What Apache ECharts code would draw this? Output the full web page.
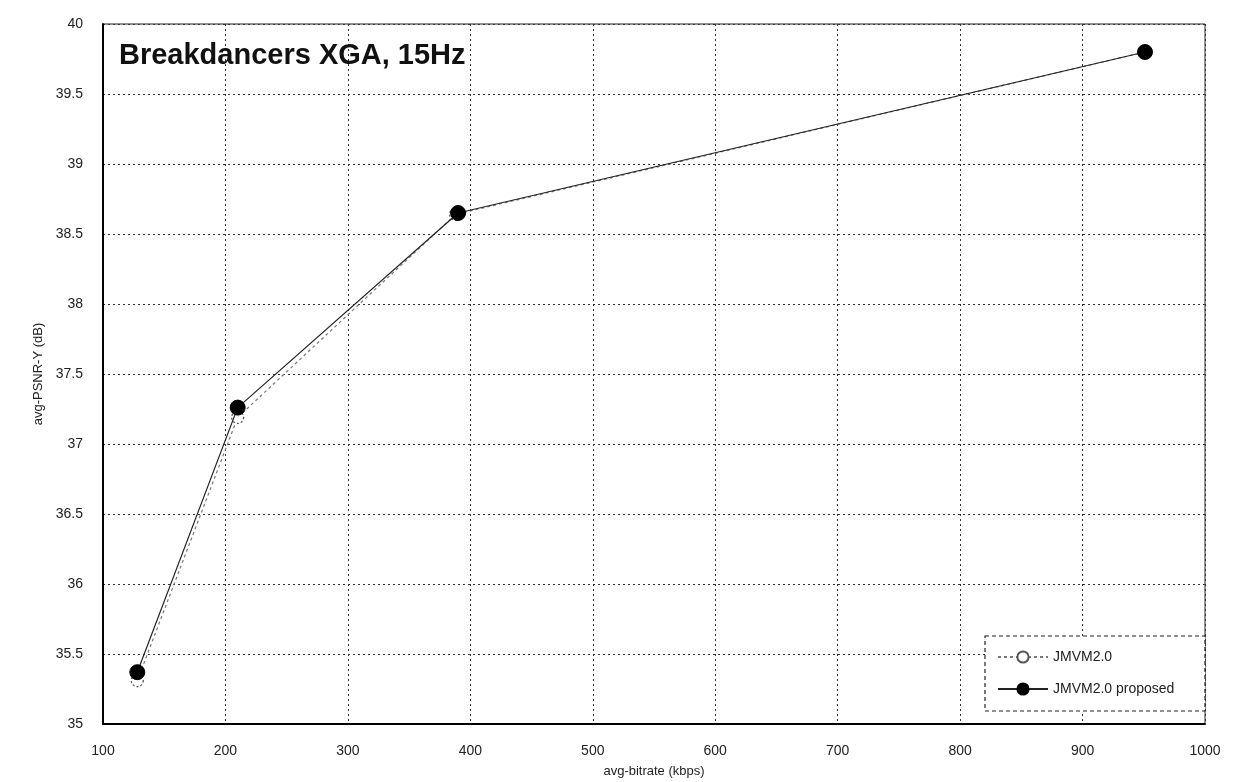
<!DOCTYPE html>
<html>
<head>
<meta charset="utf-8">
<script src="https://cdn.jsdelivr.net/npm/echarts@6/dist/echarts.min.js"></script>
<style>
  html, body { margin: 0; padding: 0; background: #fff; }
  #chart { width: 1253px; height: 782px; }
</style>
</head>
<body>
<div id="chart"></div>
<script>
// bitrate (kbps) and PSNR-Y (dB)
var bitrateRef = [128, 210, 388, 951];
var psnrRef = [35.31, 37.19, 38.64, 39.80];
var bitrateProposed = [128, 210, 390, 951];
var psnrProposed = [35.37, 37.26, 38.65, 39.80];
var seriesNames = ['JMVM2.0', 'JMVM2.0 proposed'];

function pairs(xs, ys) {
  var out = [];
  for (var i = 0; i < xs.length; i++) out.push([xs[i], ys[i]]);
  return out;
}

var myChart = echarts.init(document.getElementById('chart'));

var font = 'Liberation Sans, Arial, sans-serif';
var gridLine = { show: true, lineStyle: { color: '#333', type: [2, 3], width: 1 } };

var option = {
  backgroundColor: '#fff',
  animation: false,
  title: {
    text: 'Breakdancers XGA, 15Hz',
    left: 114,
    top: 36,
    textStyle: { fontFamily: font, fontSize: 29, fontWeight: 'bold', color: '#111' }
  },
  grid: {
    left: 103, top: 24, right: 48, bottom: 58,
    outerBoundsMode: 'none',
    show: true, borderColor: '#222', borderWidth: 1
  },
  xAxis: {
    type: 'value',
    min: 100,
    max: 1000,
    interval: 100,
    name: 'avg-bitrate (kbps)',
    nameLocation: 'middle',
    nameGap: 41,
    nameTextStyle: { fontFamily: font, fontSize: 13, color: '#222' },
    axisLine: { show: true, lineStyle: { color: '#000', width: 2 } },
    axisTick: { show: false },
    axisLabel: { fontFamily: font, fontSize: 14, color: '#222', margin: 20, formatter: function (v) { return String(v); } },
    splitLine: gridLine
  },
  yAxis: {
    type: 'value',
    min: 35,
    max: 40,
    interval: 0.5,
    name: 'avg-PSNR-Y (dB)',
    nameLocation: 'middle',
    nameGap: 58,
    nameTextStyle: { fontFamily: font, fontSize: 13, color: '#222' },
    axisLine: { show: true, lineStyle: { color: '#000', width: 2 } },
    axisTick: { show: false },
    axisLabel: { fontFamily: font, fontSize: 14, color: '#222', margin: 20 },
    splitLine: gridLine
  },
  graphic: [{
    type: 'rect',
    shape: { x: 985, y: 636, width: 220, height: 75 },
    style: { fill: '#fff', stroke: '#222', lineWidth: 1.2, lineDash: [4, 3] },
    z: 5
  }],
  legend: {
    orient: 'vertical',
    left: 992,
    top: 645,
    itemGap: 18,
    itemWidth: 50,
    itemHeight: 14,
    z: 10,
    textStyle: { fontFamily: font, fontSize: 14, color: '#222' },
    data: seriesNames
  },
  series: [
    {
      name: seriesNames[0],
      type: 'line',
      data: pairs(bitrateRef, psnrRef),
      symbol: 'circle',
      symbolSize: 12,
      itemStyle: { color: '#fff', borderColor: '#555', borderWidth: 1.3, borderType: [2, 2] },
      lineStyle: { color: '#777', width: 1.2, type: [3, 3] },
      z: 2
    },
    {
      name: seriesNames[1],
      type: 'line',
      data: pairs(bitrateProposed, psnrProposed),
      symbol: 'circle',
      symbolSize: 15,
      itemStyle: { color: '#000', borderColor: '#000', borderWidth: 1 },
      lineStyle: { color: '#222', width: 1.2 },
      z: 3
    }
  ]
};

myChart.setOption(option);
</script>
</body>
</html>
